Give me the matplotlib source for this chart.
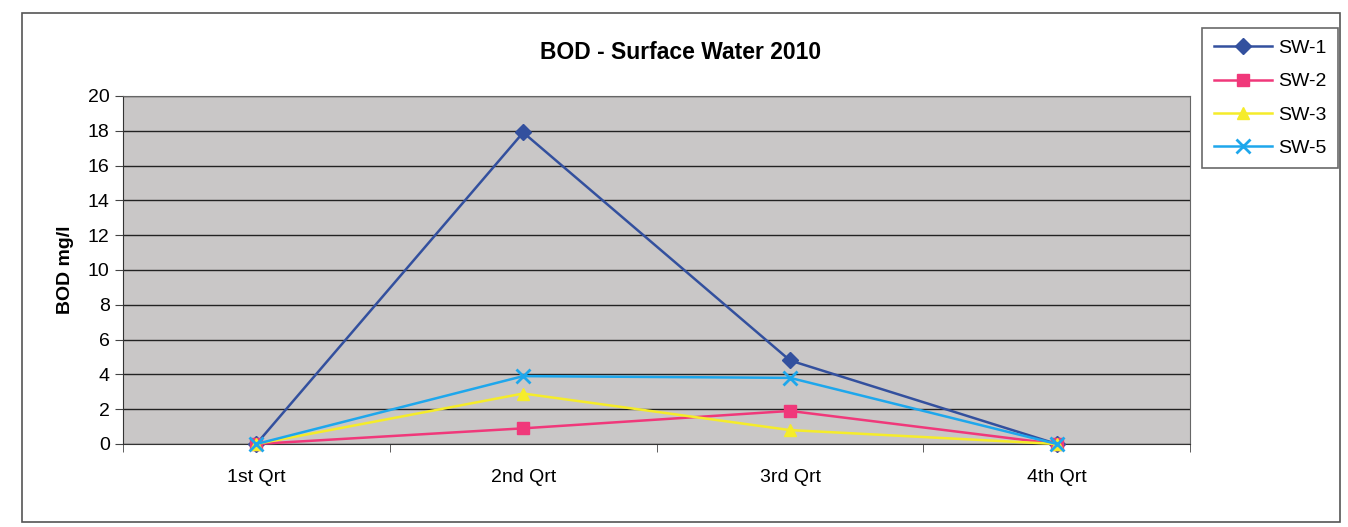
import matplotlib
matplotlib.use('Agg')
import matplotlib.pyplot as plt
from matplotlib.patches import Rectangle

plt.rcParams['font.family'] = ['Liberation Sans', 'DejaVu Sans']

quarters = ['1st Qrt', '2nd Qrt', '3rd Qrt', '4th Qrt']
sw1 = [0, 17.9, 4.8, 0]
sw2 = [0, 0.9, 1.9, 0]
sw3 = [0, 2.9, 0.8, 0]
sw5 = [0, 3.9, 3.8, 0]

series = [('SW-1', sw1, '#33509e', 'D', 8),
          ('SW-2', sw2, '#f0387a', 's', 9),
          ('SW-3', sw3, '#f5ec2a', '^', 9),
          ('SW-5', sw5, '#1ea7ec', 'x', 10)]

fig = plt.figure(figsize=(13.48, 5.27), dpi=100)
# outer chart border
fig.patches.append(Rectangle((0.016, 0.01), 0.978, 0.965, transform=fig.transFigure,
                             fill=False, edgecolor='#555555', lw=1.2))

ax = fig.add_axes([0.0912, 0.1575, 0.7918, 0.6605])
ax.set_facecolor('#c9c7c7')

x = range(len(quarters))
for name, vals, col, mk, ms in series:
    ax.plot(x, vals, color=col, marker=mk, markersize=ms, lw=1.8,
            markeredgewidth=2 if mk == 'x' else 1, label=name, clip_on=False, zorder=3)

ax.set_xlim(-0.5, 3.5)
ax.set_ylim(0, 20)
ax.set_yticks(range(0, 21, 2))
ax.set_xticks(list(x))
ax.set_xticklabels(quarters)
ax.set_xticks([-0.5, 0.5, 1.5, 2.5, 3.5], minor=True)
ax.grid(axis='y', color='#222222', lw=1)
ax.set_axisbelow(True)
ax.tick_params(axis='both', labelsize=14, length=6, direction='out', color='#444444')
ax.tick_params(axis='x', which='major', pad=18, length=0)
ax.tick_params(axis='x', which='minor', length=6, color='#444444')
for s in ax.spines.values():
    s.set_color('#666666')
ax.spines['left'].set_color('#333333')
ax.spines['bottom'].set_color('#333333')
ax.set_ylabel('BOD mg/l', fontsize=14, fontweight='bold', labelpad=10)
fig.text(0.505, 0.90, 'BOD - Surface Water 2010', fontsize=16.5, fontweight='bold',
         ha='center', va='center')

leg = ax.legend(loc='upper right', bbox_to_anchor=(0.9926, 0.947),
                bbox_transform=fig.transFigure, borderaxespad=0, fontsize=14,
                frameon=True, fancybox=False, edgecolor='#444444',
                handlelength=3.0, handletextpad=0.3, borderpad=0.6, labelspacing=0.8)
leg.get_frame().set_linewidth(1.2)

plt.savefig('out.png', dpi=100)
